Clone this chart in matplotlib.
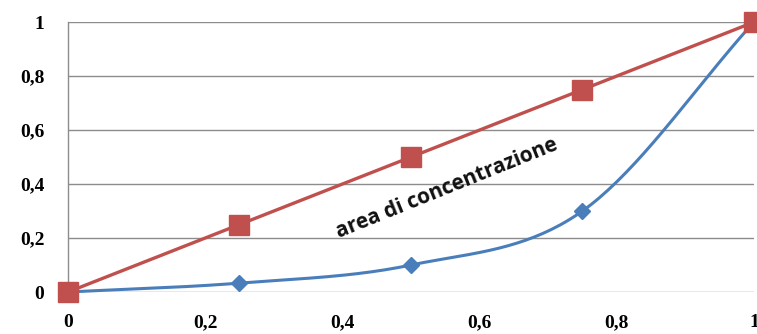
import numpy as np
import matplotlib
matplotlib.use('Agg')
import matplotlib.pyplot as plt

# cumulative shares (Lorenz curve)
x_vals = [0, 0.25, 0.5, 0.75, 1]
equality = [0, 0.25, 0.5, 0.75, 1]
lorenz = [0, 0.033, 0.1, 0.3, 1]
ticks = [0, 0.2, 0.4, 0.6, 0.8, 1]
tick_labels = ["0", "0,2", "0,4", "0,6", "0,8", "1"]
area_label = "area di concentrazione"


def smooth(xs, ys, n=40):
    # Catmull-Rom style smoothing like the Excel "smoothed line"
    xs = np.asarray(xs, float)
    ys = np.asarray(ys, float)
    px = np.concatenate([[2 * xs[0] - xs[1]], xs, [2 * xs[-1] - xs[-2]]])
    py = np.concatenate([[2 * ys[0] - ys[1]], ys, [2 * ys[-1] - ys[-2]]])
    out_x, out_y = [], []
    t = np.linspace(0, 1, n)
    for i in range(1, len(px) - 2):
        for arr, out in ((px, out_x), (py, out_y)):
            p0, p1, p2, p3 = arr[i - 1], arr[i], arr[i + 1], arr[i + 2]
            seg = 0.5 * ((2 * p1) + (-p0 + p2) * t + (2 * p0 - 5 * p1 + 4 * p2 - p3) * t ** 2
                         + (-p0 + 3 * p1 - 3 * p2 + p3) * t ** 3)
            out.extend(seg)
    return out_x, out_y


fig = plt.figure(figsize=(7.57, 3.34), dpi=100)
ax = fig.add_axes([0.0898, 0.1257, 0.906, 0.808])

red = "#C0504D"
blue = "#4A7EBB"

sx, sy = smooth(x_vals, lorenz)
ax.plot(sx, sy, color=blue, lw=2.2, zorder=3, clip_on=False)
ax.plot(x_vals, lorenz, ls="none", marker="D", ms=8, color=blue, zorder=4, clip_on=False)
ax.plot(x_vals, equality, color=red, lw=2.4, marker="s", ms=14, zorder=5, clip_on=False)

ax.set_xlim(0, 1)
ax.set_ylim(0, 1)
ax.set_xticks(ticks)
ax.set_xticklabels(tick_labels)
ax.set_yticks(ticks)
ax.set_yticklabels(tick_labels)
for lab in ax.get_xticklabels() + ax.get_yticklabels():
    lab.set_fontfamily("Liberation Serif")
    lab.set_fontweight("bold")
    lab.set_fontsize(14)
ax.tick_params(axis="y", length=0, pad=17)
ax.tick_params(axis="x", length=0, pad=16)

ax.grid(axis="y", color="#8c8c8c", lw=1)
ax.set_axisbelow(True)
for s in ["top", "right", "bottom"]:
    ax.spines[s].set_visible(False)
ax.spines["left"].set_color("#8c8c8c")
ax.spines["left"].set_linewidth(1)

ax.text(0.552, 0.385, area_label, rotation=22, rotation_mode="anchor",
        ha="center", va="center", fontsize=15, fontweight="bold",
        family="Open Sans", color="#111111")

fig.savefig("out.png", dpi=100)
